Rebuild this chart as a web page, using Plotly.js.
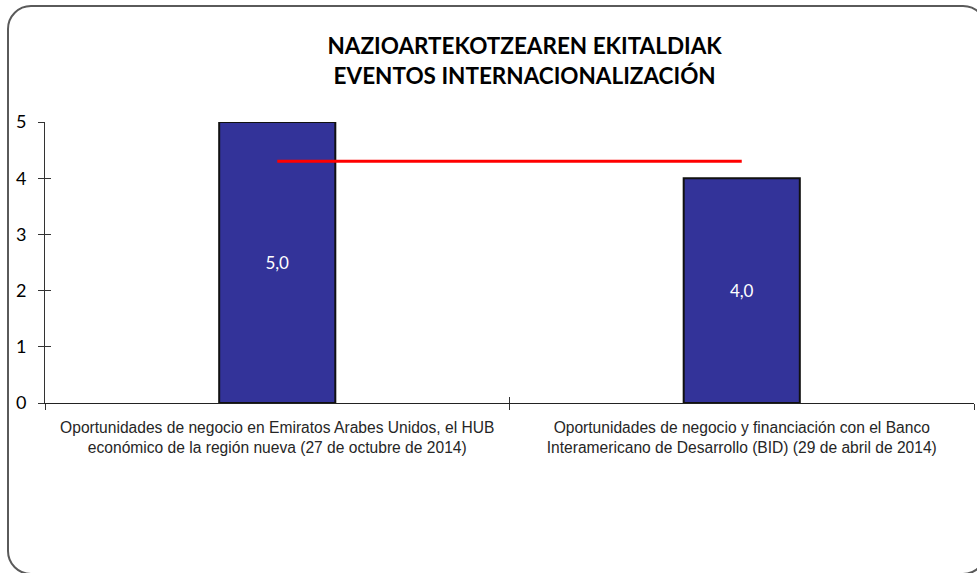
<!DOCTYPE html>
<html>
<head>
<meta charset="utf-8">
<script src="https://cdn.plot.ly/plotly-3.0.1.min.js"></script>
<style>
  html, body { margin: 0; padding: 0; background: #fff; overflow: hidden; }
  #frame { position: absolute; left: 7px; top: 5px; width: 980px; height: 570px;
           border: 2px solid #5a5a5a; border-radius: 24px; box-sizing: border-box; }
  #chart { position: absolute; left: 0; top: 0; width: 977px; height: 573px; }
</style>
</head>
<body>
<div id="frame"></div>
<div id="chart"></div>
<script>
const categories = [
  "Oportunidades de negocio en Emiratos Arabes Unidos, el HUB<br>económico de la región nueva (27 de octubre de 2014)",
  "Oportunidades de negocio y financiación con el Banco<br>Interamericano de Desarrollo (BID) (29 de abril de 2014)"
];
const values = [5, 4];
const averageLine = [4.3, 4.3];
const yTicks = [0, 1, 2, 3, 4, 5];
const titleLines = ["NAZIOARTEKOTZEAREN EKITALDIAK", "EVENTOS INTERNACIONALIZACIÓN"];

const traces = [
  {
    type: "bar",
    x: categories,
    y: values,
    marker: { color: "#333399", line: { color: "#111111", width: 2 } },
    texttemplate: "%{y:.1f}",
    textposition: "inside",
    insidetextanchor: "middle",
    textangle: 0,
    textfont: { family: "Lato, 'Open Sans', sans-serif", size: 17, color: "#ffffff" },
    hoverinfo: "skip",
    showlegend: false
  },
  {
    type: "scatter",
    mode: "lines",
    x: categories,
    y: averageLine,
    line: { color: "#ff0000", width: 3 },
    hoverinfo: "skip",
    showlegend: false
  },
  {
    type: "scatter",
    mode: "markers",
    x: categories,
    y: values,
    xaxis: "x2",
    yaxis: "y2",
    marker: { opacity: 0 },
    hoverinfo: "skip",
    showlegend: false
  }
];

const layout = {
  width: 977,
  height: 573,
  margin: { l: 45, r: 3, t: 122, b: 170 },
  paper_bgcolor: "rgba(0,0,0,0)",
  plot_bgcolor: "rgba(0,0,0,0)",
  separators: ",.",
  bargap: 0.75,
  title: {
    text: "<b>" + titleLines.join("<br>") + "</b>",
    font: { family: "Lato, 'Open Sans', sans-serif", size: 22.5, color: "#000000" },
    x: 0.537,
    xanchor: "center",
    y: 0.905,
    yanchor: "top"
  },
  xaxis: {
    type: "category",
    tickson: "boundaries",
    ticks: "outside",
    ticklen: 6,
    tickcolor: "#333333",
    showline: true,
    linecolor: "#222222",
    linewidth: 1,
    showgrid: false,
    zeroline: false,
    ticklabelstandoff: 10,
    tickfont: { family: "'Liberation Sans', Arial, sans-serif", size: 15.6, color: "#262626" },
    fixedrange: true
  },
  yaxis: {
    range: [0, 5],
    tickvals: yTicks,
    ticks: "outside",
    ticklen: 6,
    tickcolor: "#333333",
    showline: true,
    linecolor: "#333333",
    linewidth: 1,
    showgrid: false,
    zeroline: false,
    ticklabelstandoff: 8,
    tickfont: { family: "Lato, 'Open Sans', sans-serif", size: 18, color: "#000000" },
    fixedrange: true
  },
  xaxis2: {
    type: "category",
    overlaying: "x",
    matches: "x",
    tickson: "boundaries",
    ticks: "inside",
    ticklen: 6,
    tickcolor: "#333333",
    showticklabels: false,
    showgrid: false,
    zeroline: false,
    showline: false,
    side: "bottom",
    anchor: "y2"
  },
  yaxis2: {
    overlaying: "y",
    range: [0, 5],
    tickvals: yTicks,
    ticks: "inside",
    ticklen: 6,
    tickcolor: "#333333",
    showticklabels: false,
    showgrid: false,
    zeroline: false,
    showline: false,
    anchor: "x2"
  }
};

Plotly.newPlot("chart", traces, layout, { displayModeBar: false, staticPlot: true });
</script>
</body>
</html>
